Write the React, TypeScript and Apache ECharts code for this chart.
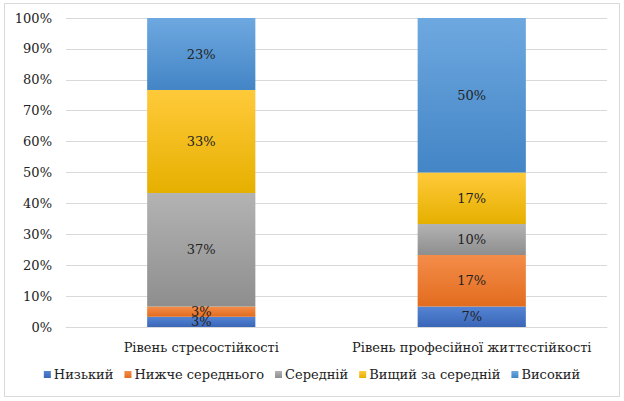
import React, { useEffect, useRef } from "react";
import * as echarts from "echarts";

const categories = ["Рівень стресостійкості", "Рівень професійної життєстійкості"];
const seriesNames = ["Низький", "Нижче середнього", "Середній", "Вищий за середній", "Високий"];
const low = [3.33, 6.67];
const belowAvg = [3.33, 16.67];
const avg = [36.67, 10];
const aboveAvg = [33.33, 16.67];
const high = [23.33, 50];
const yTicks = { min: 0, max: 100, interval: 10 };

const colors = [
  ["#5585D4", "#3A66B8"],
  ["#F48D4A", "#E26C1E"],
  ["#B3B3B3", "#8E8E8E"],
  ["#FFCA3A", "#E6B000"],
  ["#6EA8E0", "#4385C6"],
];

export default function App() {
  const ref = useRef<HTMLDivElement>(null);
  useEffect(() => {
    const chart = echarts.init(ref.current!, null, { renderer: "svg" });
    const data = [low, belowAvg, avg, aboveAvg, high];
    const font = "DejaVu Serif";
    const fs = 13;
    chart.setOption({
      animation: false,
      textStyle: { fontFamily: font },
      graphic: [
        {
          type: "rect",
          shape: { x: 4.5, y: 3.5, width: 615, height: 393 },
          style: { fill: "none", stroke: "#D9D9D9", lineWidth: 1 },
          silent: true,
        },
      ],
      grid: { left: 66, right: 17, top: 18, bottom: 74 },
      legend: {
        bottom: 15,
        left: "center",
        itemWidth: 7,
        itemHeight: 7,
        itemGap: 11,
        icon: "rect",
        textStyle: { fontFamily: font, fontSize: fs, color: "#222", padding: [0, 0, 0, -2] },
        data: seriesNames,
      },
      xAxis: {
        type: "category",
        data: categories,
        axisTick: { show: false },
        axisLine: { lineStyle: { color: "#D9D9D9" } },
        axisLabel: { fontFamily: font, fontSize: fs, color: "#222", margin: 14, interval: 0 },
      },
      yAxis: {
        type: "value",
        min: yTicks.min,
        max: yTicks.max,
        interval: yTicks.interval,
        axisLabel: { formatter: "{value}%", fontFamily: font, fontSize: fs, color: "#222", margin: 14 },
        splitLine: { lineStyle: { color: "#D9D9D9" } },
        axisLine: { show: false },
        axisTick: { show: false },
      },
      series: seriesNames.map((name, i) => ({
        name,
        type: "bar",
        stack: "total",
        barWidth: "40%",
        data: data[i],
        itemStyle: {
          color: new echarts.graphic.LinearGradient(0, 0, 0, 1, [
            { offset: 0, color: colors[i][0] },
            { offset: 1, color: colors[i][1] },
          ]),
        },
        label: {
          show: true,
          position: "inside",
          formatter: (p: any) => Math.round(p.value) + "%",
          fontFamily: font,
          fontSize: fs,
          color: "#222",
        },
      })),
      color: colors.map((c) => c[1]),
    });
    return () => chart.dispose();
  }, []);
  return (
    <div
      ref={ref}
      style={{ position: "fixed", left: 0, top: 0, width: 624, height: 401, background: "#fff" }}
    />
  );
}
